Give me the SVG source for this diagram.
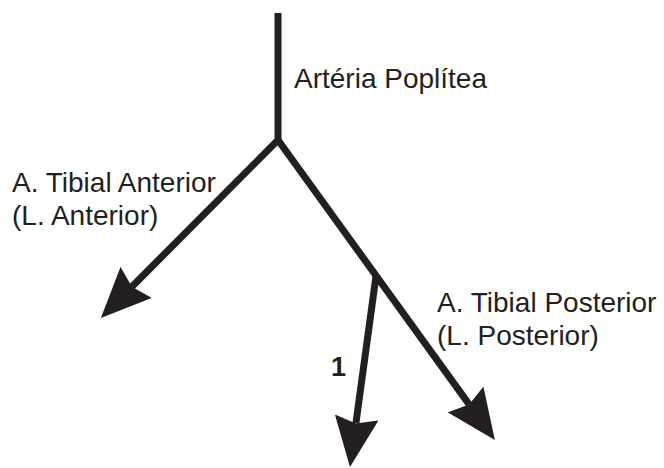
<svg xmlns="http://www.w3.org/2000/svg" width="664" height="468" viewBox="0 0 664 468">
<style>
.ln{fill:none;stroke:#231f20;stroke-width:7;stroke-linecap:butt;stroke-linejoin:miter}
.lb{font-family:"Liberation Sans",Arial,sans-serif;font-size:28px;fill:#231f20}
.num{font-family:"Liberation Sans",Arial,sans-serif;font-size:27px;font-weight:bold;fill:#231f20}
</style>
<defs>
<marker id="ah" markerUnits="userSpaceOnUse" viewBox="0 0 50 44" markerWidth="50" markerHeight="44" refX="6" refY="22" orient="auto">
<path d="M0,0 L50,22 L0,44 L6,22 Z" fill="#231f20"/>
</marker>
</defs>
<rect width="664" height="468" fill="#ffffff"/>
<g id="connectors">
<path class="ln" d="M278,13 V140 L131.9,286.7" marker-end="url(#ah)"/>
<path class="ln" d="M278,140 L469.1,404.4" marker-end="url(#ah)"/>
<path class="ln" d="M376,276 L355.9,423.4" marker-end="url(#ah)"/>
</g>
<g id="poplitea"><text class="lb" x="294" y="88">Artéria Poplítea</text></g>
<g id="tibial-anterior"><text class="lb" x="12" y="192">A. Tibial Anterior</text><text class="lb" x="12" y="225">(L. Anterior)</text></g>
<g id="tibial-posterior"><text class="lb" x="437" y="312">A. Tibial Posterior</text><text class="lb" x="437" y="345">(L. Posterior)</text></g>
<g id="branch-1"><text class="num" x="331" y="376">1</text></g>
</svg>
